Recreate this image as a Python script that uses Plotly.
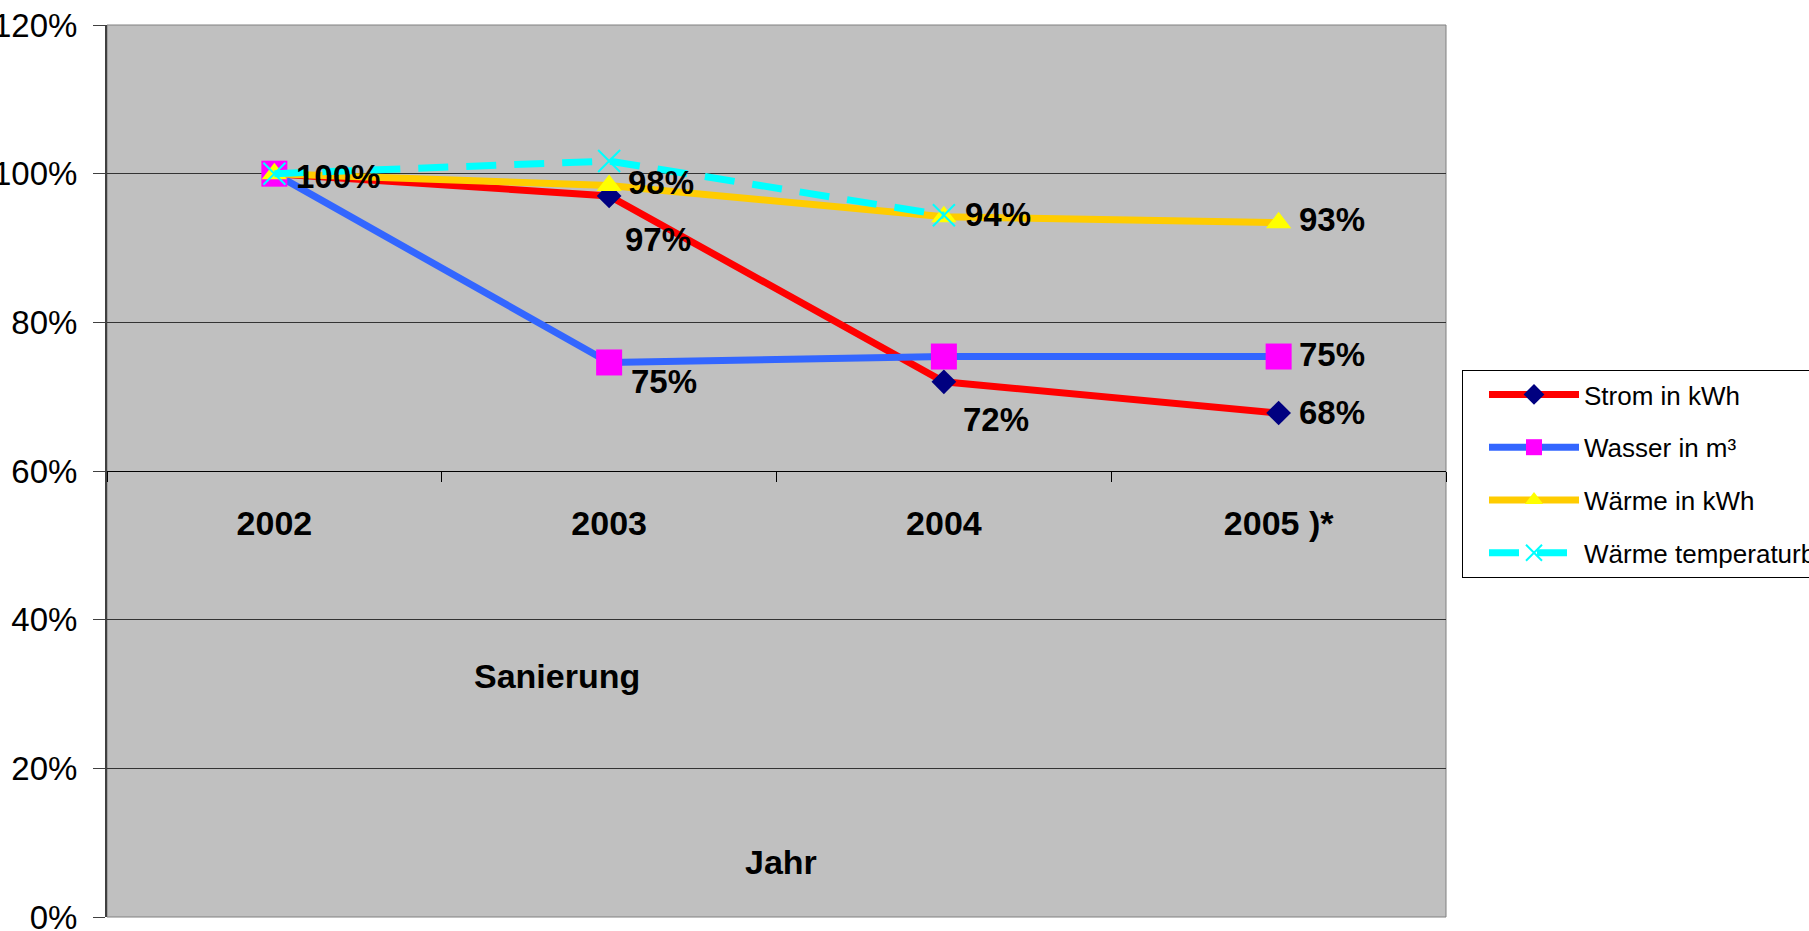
import plotly.graph_objects as go

years = ["2002", "2003", "2004", "2005 )*"]
strom = [100, 97.0, 72.0, 67.8]
wasser = [100, 74.6, 75.4, 75.4]
waerme = [100, 98.4, 94.2, 93.4]
waerme_bereinigt = [100, 101.7, 94.4, None]
y_ticks = [0, 20, 40, 60, 80, 100, 120]
y_tick_text = [f"{v}%" for v in y_ticks]

names = ["Strom in kWh", "Wasser in m³", "Wärme in kWh", "Wärme temperaturbereinigt"]

FONT = "Liberation Sans, Arial"

fig = go.Figure()

fig.add_trace(go.Scatter(
    x=years, y=strom, name=names[0], mode="lines+markers",
    line=dict(color="#FF0000", width=7),
    marker=dict(symbol="diamond", size=19, color="#000080"),
    legendgroup="a",
))
fig.add_trace(go.Scatter(
    x=years, y=wasser, name=names[1], mode="lines+markers",
    line=dict(color="#3366FF", width=7),
    marker=dict(symbol="square", size=26, color="#FF00FF"),
    legendgroup="b",
))
fig.add_trace(go.Scatter(
    x=years, y=waerme, name=names[2], mode="lines+markers",
    line=dict(color="#FFCC00", width=7),
    marker=dict(symbol="triangle-up", size=22, color="#FFFF00"),
    legendgroup="c",
))
fig.add_trace(go.Scatter(
    x=years, y=waerme_bereinigt, name=names[3], mode="lines+markers",
    line=dict(color="#00FFFF", width=7, dash="30px,18px"),
    marker=dict(symbol="x-thin-open", size=22, color="#00FFFF",
                line=dict(color="#00FFFF", width=2)),
    legendgroup="d",
))

# data labels: (series, index, xshift, yshift)
label_spec = [
    (waerme, 0, 20, -3),
    (waerme, 1, 17, 3),
    (strom, 1, 14, -44),
    (wasser, 1, 20, -19),
    (waerme, 2, 19, 2),
    (strom, 2, 17, -38),
    (waerme, 3, 18, 3),
    (wasser, 3, 18, 2),
    (strom, 3, 18, 1),
]
annotations = []
for series, i, xs, ys in label_spec:
    annotations.append(dict(
        x=i, y=series[i], xref="x", yref="y",
        text=f"{series[i]:.0f}%", showarrow=False,
        xanchor="left", yanchor="middle", xshift=xs, yshift=ys,
        font=dict(family=FONT, size=33, color="black", weight="bold"),
    ))

annotations.append(dict(
    x=0.336, y=0.270, xref="paper", yref="paper", text="Sanierung",
    showarrow=False, xanchor="center", yanchor="middle",
    font=dict(family=FONT, size=34, color="black", weight="bold"),
))
annotations.append(dict(
    x=0.503, y=0.062, xref="paper", yref="paper", text="Jahr",
    showarrow=False, xanchor="center", yanchor="middle",
    font=dict(family=FONT, size=34, color="black", weight="bold"),
))

fig.update_layout(
    width=1809, height=931,
    margin=dict(l=107, r=363, t=25, b=14, autoexpand=False),
    paper_bgcolor="white",
    plot_bgcolor="#C0C0C0",
    showlegend=True,
    legend=dict(
        xref="container", yref="container",
        x=1462 / 1809, y=1 - 370 / 931, xanchor="left", yanchor="top",
        bgcolor="white", bordercolor="black", borderwidth=1,
        font=dict(family=FONT, size=26, color="black"),
        traceorder="grouped", tracegroupgap=16, itemwidth=90,
        indentation=21,
    ),
    annotations=annotations,
    shapes=[dict(
        type="rect", xref="x domain", yref="y domain",
        x0=0, x1=1, y0=0, y1=1, line=dict(color="#808080", width=1),
        layer="below",
    )],
)

fig.update_xaxes(
    type="category", range=[-0.5, 3.5],
    anchor="free", position=0.5, automargin=False,
    showline=True, linecolor="black", linewidth=1,
    ticks="outside", tickson="boundaries", ticklen=10, tickcolor="black",
    ticklabelstandoff=22,
    showgrid=False,
    tickfont=dict(family=FONT, size=34, color="black", weight="bold"),
)
fig.update_yaxes(
    range=[0, 120], tickmode="array", tickvals=y_ticks, ticktext=y_tick_text,
    automargin=False, ticklabeloverflow="allow",
    showline=True, linecolor="#404040", linewidth=2,
    ticks="outside", ticklen=12, tickcolor="#404040",
    ticklabelstandoff=9,
    showgrid=True, gridcolor="#333333", gridwidth=1,
    zeroline=False,
    tickfont=dict(family=FONT, size=33, color="black"),
)

fig.write_html(
    "out.html",
    config={"displayModeBar": False},
    post_script="document.body.style.margin='0px';",
)
